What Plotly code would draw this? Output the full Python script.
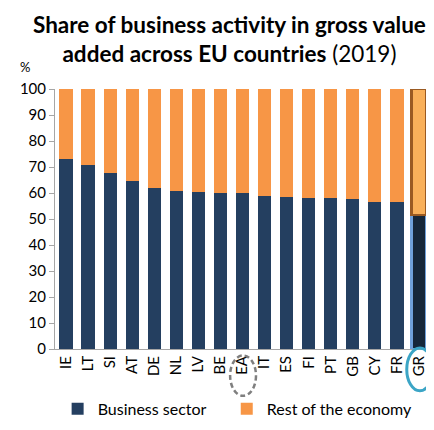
import plotly.graph_objects as go

countries = ["IE", "LT", "SI", "AT", "DE", "NL", "LV", "BE", "EA", "IT",
             "ES", "FI", "PT", "GB", "CY", "FR", "GR"]
business = [73.2, 70.9, 67.7, 64.6, 61.9, 60.9, 60.3, 60.0, 60.0, 58.7,
            58.5, 58.2, 57.9, 57.7, 56.5, 56.4, 51.6]
rest = [26.8, 29.1, 32.3, 35.4, 38.1, 39.1, 39.7, 40.0, 40.0, 41.3,
        41.5, 41.8, 42.1, 42.3, 43.5, 43.6, 48.4]
y_ticks = [0, 10, 20, 30, 40, 50, 60, 70, 80, 90, 100]

NAVY = "#243F60"
ORANGE = "#F79646"
FONT = "Lato"

n = len(countries)
is_gr = [c == "GR" for c in countries]
widths = [0.7 if g else 0.6 for g in is_gr]

fig = go.Figure()
fig.add_trace(go.Bar(
    x=countries, y=business, name="Business sector", width=widths, legend="legend",
    marker=dict(color=["#16273A" if g else NAVY for g in is_gr],
                line=dict(color=["#6FA0DA" if g else NAVY for g in is_gr],
                          width=[2.5 if g else 0 for g in is_gr])),
))
fig.add_trace(go.Bar(
    x=countries, y=rest, name="Rest of the economy", width=widths, legend="legend2",
    marker=dict(color=["#F9B05A" if g else ORANGE for g in is_gr],
                line=dict(color=["#9A5A22" if g else ORANGE for g in is_gr],
                          width=[2.5 if g else 0 for g in is_gr])),
))

legend_common = dict(orientation="h", xanchor="left", y=-0.23, yanchor="middle",
                     font=dict(family=FONT, size=16), bgcolor="rgba(0,0,0,0)")

fig.update_layout(
    barmode="stack",
    width=434, height=430,
    margin=dict(l=45, r=12, t=81, b=84),
    paper_bgcolor="white", plot_bgcolor="white",
    font=dict(family=FONT, size=14, color="#000000"),
    showlegend=True,
    legend=dict(x=0.007, **legend_common),
    legend2=dict(x=0.458, **legend_common),
    xaxis=dict(
        type="category", tickangle=-90, showline=True, linecolor="#A6A6A6",
        linewidth=1, ticks="", showgrid=False, tickfont=dict(size=15),
        range=[-0.5, n - 0.5],
    ),
    yaxis=dict(
        range=[0, 100], tickvals=y_ticks, showline=True, linecolor="#A6A6A6",
        linewidth=1, ticks="outside", ticklen=5, tickcolor="#A6A6A6",
        showgrid=False, zeroline=False, tickfont=dict(size=15),
    ),
)

fig.add_annotation(
    text="<b>Share of business activity in gross value<br>added across EU countries</b> (2019)",
    xref="paper", yref="paper", x=0.464, y=1.192, xanchor="center", yanchor="middle",
    showarrow=False, font=dict(family=FONT, size=22.5, color="#000000"))
fig.add_annotation(text="%", xref="paper", yref="paper", x=-0.08, y=1.083,
                   xanchor="center", yanchor="middle",
                   showarrow=False, font=dict(family=FONT, size=13))

fig.add_shape(type="circle", xref="paper", yref="paper",
              x0=0.467, x1=0.536, y0=-0.18, y1=-0.025,
              line=dict(color="#7F7F7F", width=2.5, dash="5px,3px"))
fig.add_shape(type="circle", xref="paper", yref="paper",
              x0=0.938, x1=1.008, y0=-0.161, y1=0.004,
              line=dict(color="#3BA5C6", width=3))

fig.write_html("out.html")
